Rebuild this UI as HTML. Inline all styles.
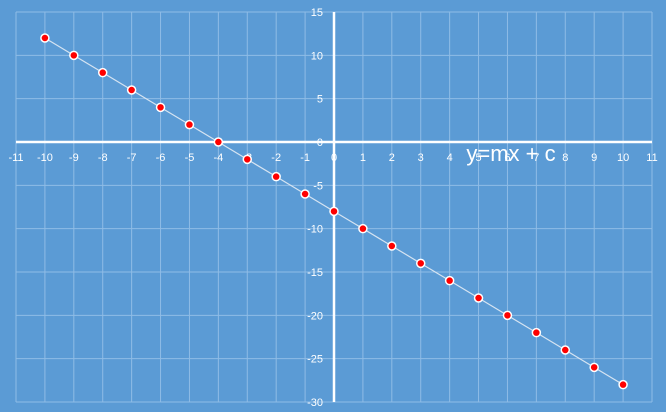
<!DOCTYPE html>
<html><head><meta charset="utf-8"><style>
html,body{margin:0;padding:0;background:#5b9bd5;}
svg{display:block;font-family:"Liberation Sans",sans-serif;}
</style></head><body>
<svg id="chart" width="666" height="412" xmlns="http://www.w3.org/2000/svg">
<rect width="666" height="412" fill="#5b9bd5"/>
<g id="grid"></g><g id="axes"></g><g id="labels"></g><g id="series"></g>
<text x="511" y="161" font-size="22" fill="#fff" text-anchor="middle">y=mx + c</text>
</svg>
<script>
const xValues=[-10,-9,-8,-7,-6,-5,-4,-3,-2,-1,0,1,2,3,4,5,6,7,8,9,10];
const yValues=[12,10,8,6,4,2,0,-2,-4,-6,-8,-10,-12,-14,-16,-18,-20,-22,-24,-26,-28];
const xTicks=[-11,-10,-9,-8,-7,-6,-5,-4,-3,-2,-1,0,1,2,3,4,5,6,7,8,9,10,11];
const yTicks=[15,10,5,0,-5,-10,-15,-20,-25,-30];
const NS="http://www.w3.org/2000/svg";
function sx(v){return 16+(v+11)*(636/22);}
function sy(v){return 12+(15-v)*(390/45);}
function mk(t,a,p){const e=document.createElementNS(NS,t);for(const k in a)e.setAttribute(k,a[k]);p.appendChild(e);return e;}
const grid=document.getElementById('grid'),axes=document.getElementById('axes'),labels=document.getElementById('labels'),series=document.getElementById('series');
xTicks.forEach(v=>{
  const l=mk('line',{x1:sx(v),x2:sx(v),y1:sy(15),y2:sy(-30),stroke:'#8fbce6','stroke-width':1},grid);
  
  
  const t=mk('text',{x:sx(v),y:sy(0)+19,'font-size':11,fill:'#fff','text-anchor':'middle'},labels);
  t.textContent=v;
  
  
});
yTicks.forEach(v=>{
  const l=mk('line',{x1:sx(-11),x2:sx(11),y1:sy(v),y2:sy(v),stroke:'#8fbce6','stroke-width':1},grid);
  
  
  const t=mk('text',{x:sx(0)-11,y:sy(v)+4,'font-size':11,fill:'#fff','text-anchor':'end'},labels);
  t.textContent=v;
  
  
});
const xa=mk('line',{x1:sx(-11),x2:sx(11),y1:sy(0),y2:sy(0),stroke:'#fff','stroke-width':2.5},axes);


const ya=mk('line',{x1:sx(0),x2:sx(0),y1:sy(15),y2:sy(-30),stroke:'#fff','stroke-width':2.5},axes);


const pl=mk('polyline',{points:xValues.map((x,i)=>sx(x)+','+sy(yValues[i])).join(' '),fill:'none',stroke:'#d6e4f2','stroke-width':1.2},series);


xValues.forEach((x,i)=>{
  const c=mk('circle',{cx:sx(x),cy:sy(yValues[i]),r:4,fill:'#ff0000',stroke:'#fff','stroke-width':1.5},series);
  
  
});
</script>
</body></html>
